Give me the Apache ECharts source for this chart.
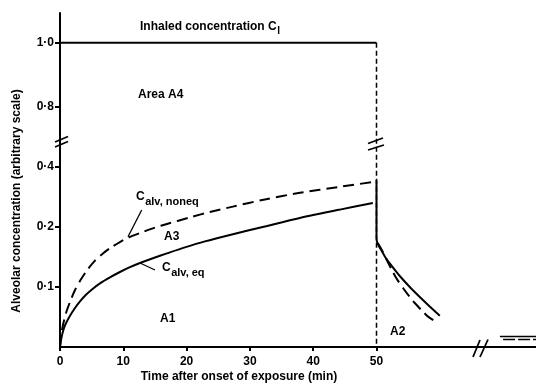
<!DOCTYPE html>
<html><head><meta charset="utf-8">
<script src="https://cdn.jsdelivr.net/npm/echarts@6/dist/echarts.min.js"></script>
<style>html,body{margin:0;padding:0;background:#fff}#c{width:536px;height:388px}</style>
</head><body><div id="c"></div>
<script>
// Axis units: one unit per labelled y tick (the original y scale is arbitrary and broken)
const yTickPos = [1, 2, 3, 4, 5.07];
const yTickLabels = ['0·1', '0·2', '0·4', '0·8', '1·0'];
const xTicks = [0, 10, 20, 30, 40, 50];

// Inhaled concentration C_I (level during exposure 0..50 min) and end of exposure
const ciTime = [0, 50];
const ciLevel = [5.07, 5.07];
const stopTime = [50, 50];
const stopLevel = [5.07, 0];

// Rising phase
const tEqRise = [0, 0.16, 0.39, 0.79, 1.58, 2.37, 3.16, 4.1, 5.05, 6.32, 7.89, 9.47, 11.05, 12.63, 14.68, 16.89, 19.73, 22.89, 27.31, 32.37, 37.89, 44.21, 49.42];
const eqRise = [0, 0.117, 0.23, 0.36, 0.52, 0.65, 0.76, 0.87, 0.96, 1.06, 1.16, 1.25, 1.33, 1.4, 1.48, 1.56, 1.66, 1.76, 1.88, 2.01, 2.15, 2.29, 2.4];
const tNoneqRise = [0, 0.16, 0.47, 0.95, 1.58, 2.37, 3.32, 4.42, 5.53, 6.79, 8.21, 9.47, 10.74, 12.63, 15.0, 16.89, 20.52, 23.68, 27.31, 32.37, 37.89, 44.21, 49.42];
const noneqRise = [0, 0.183, 0.367, 0.567, 0.75, 0.95, 1.13, 1.3, 1.44, 1.56, 1.67, 1.75, 1.82, 1.9, 1.99, 2.05, 2.16, 2.25, 2.34, 2.46, 2.57, 2.67, 2.75];

// Washout phase after exposure stops
const tDrop = [50, 50];
const eqDrop = [2.783, 1.833];
const tEqFall = [50, 50.05, 50.36, 50.84, 51.47, 52.42, 53.68, 55.26, 56.84, 58.41, 60.0];
const eqFall = [1.833, 1.767, 1.683, 1.6, 1.483, 1.35, 1.183, 1.0, 0.833, 0.675, 0.52];
const tNoneqFall = [50.2, 50.84, 51.63, 52.42, 53.36, 54.31, 55.26, 56.05, 57.31, 58.1, 59.68];
const noneqFall = [1.733, 1.617, 1.45, 1.283, 1.11, 0.967, 0.833, 0.733, 0.592, 0.51, 0.4];

// Far tail beyond the time-axis break
const tEqTail = [69.5, 75.2];
const eqTail = [0.175, 0.175];
const tNoneqTail = [70, 75.2];
const noneqTail = [0.125, 0.125];

const zip = (a, b) => a.map((v, i) => [v, b[i]]);
const FONT = '"Liberation Sans", Arial, sans-serif';
const solid = {color: '#000', width: 2};
const dashed = {color: '#000', width: 2, type: [11, 6]};

const mctx = document.createElement('canvas').getContext('2d');
const tw = (t, size, weight) => { mctx.font = (weight || 'bold') + ' ' + size + 'px ' + FONT; return mctx.measureText(t).width; };

const ln = (x1, y1, x2, y2, w) => ({type: 'line', shape: {x1, y1, x2, y2}, style: {stroke: '#000', lineWidth: w || 1.6}, z: 100});
const tx = (x, y, text, size, weight, align, rot) => ({type: 'text', x, y, rotation: rot || 0, z: 100, style: {text, fontSize: size, fontWeight: weight || 'bold', fontFamily: FONT, fill: '#000', align: align || 'left', verticalAlign: 'middle'}});
const withSub = (x, y, main, mSize, sub, sSize, dy) => [tx(x, y, main, mSize), tx(x + tw(main, mSize) + 0.5, y + dy, sub, sSize)];

const chart = echarts.init(document.getElementById('c'), null, {renderer: 'canvas'});
chart.setOption({
  animation: false,
  backgroundColor: '#fff',
  grid: {left: 60, right: 0, top: 13, bottom: 41},
  xAxis: {
    type: 'value', min: 0, max: 75.2,
    axisLine: {show: true, lineStyle: {color: '#000', width: 2}},
    axisTick: {show: true, length: 4, customValues: xTicks, lineStyle: {color: '#000', width: 2}},
    axisLabel: {customValues: xTicks, margin: 9, fontSize: 12, fontWeight: 'bold', fontFamily: FONT, color: '#000'},
    splitLine: {show: false}
  },
  yAxis: {
    type: 'value', min: 0, max: 5.567,
    axisLine: {show: true, lineStyle: {color: '#000', width: 2}},
    axisTick: {show: true, length: 5, customValues: yTickPos, lineStyle: {color: '#000', width: 2}},
    axisLabel: {customValues: yTickPos, margin: 6, fontSize: 12, fontWeight: 'bold', fontFamily: FONT, color: '#000',
      formatter: v => { const i = yTickPos.findIndex(p => Math.abs(p - v) < 1e-6); return i >= 0 ? yTickLabels[i] : ''; }},
    splitLine: {show: false}
  },
  series: [
    {type: 'line', data: zip(ciTime, ciLevel), symbol: 'none', lineStyle: solid},
    {type: 'line', data: zip(stopTime, stopLevel), symbol: 'none', lineStyle: {color: '#000', width: 1.5, type: [5, 3]}},
    {type: 'line', data: zip(tEqRise, eqRise), symbol: 'none', smooth: 0.25, lineStyle: solid},
    {type: 'line', data: zip(tNoneqRise, noneqRise), symbol: 'none', smooth: 0.25, lineStyle: dashed},
    {type: 'line', data: zip(tDrop, eqDrop), symbol: 'none', lineStyle: solid},
    {type: 'line', data: zip(tEqFall, eqFall), symbol: 'none', smooth: 0.25, lineStyle: solid},
    {type: 'line', data: zip(tNoneqFall, noneqFall), symbol: 'none', smooth: 0.25, lineStyle: dashed},
    {type: 'line', data: zip(tEqTail, eqTail), symbol: 'none', lineStyle: {color: '#000', width: 1.5}},
    {type: 'line', data: zip(tNoneqTail, noneqTail), symbol: 'none', lineStyle: {color: '#000', width: 1.5, type: [12, 3]}}
  ],
  graphic: [
    tx(17, 201, 'Alveolar concentration (arbitrary scale)', 12, 'bold', 'center', Math.PI / 2),
    tx(239, 377, 'Time after onset of exposure (min)', 12, 'bold', 'center'),
    ...withSub(140, 27, 'Inhaled concentration C', 12, 'I', 10, 4),
    tx(138, 95, 'Area A4', 12),
    tx(164, 237, 'A3', 12),
    tx(160, 319, 'A1', 12),
    tx(390, 332, 'A2', 12),
    ...withSub(136, 197, 'C', 12, 'alv, noneq', 11, 5),
    ...withSub(162, 268, 'C', 12, 'alv, eq', 11, 5),
    ln(141.7, 210, 128, 236.7, 1.3),
    ln(140, 263, 155, 270, 1.3),
    ln(55, 142, 68, 136.5, 1.8),
    ln(55, 147, 68, 141.5, 1.8),
    ln(368, 150, 384, 145, 1.8),
    ln(368, 143.5, 383, 138, 1.8),
    ln(473, 357, 480, 340, 1.8),
    ln(480, 357, 488, 339.5, 1.8)
  ]
});
</script></body></html>
